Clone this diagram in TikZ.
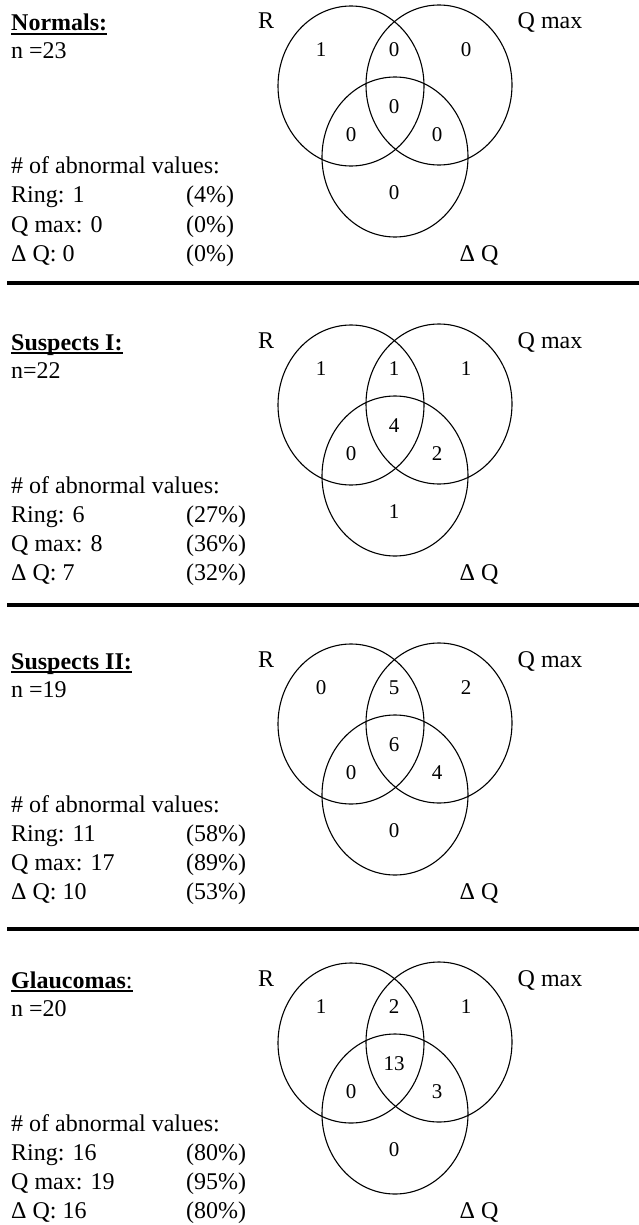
\documentclass[tikz,border=0pt]{standalone}
\usepackage{fontspec}
\setmainfont{Liberation Serif}
\usetikzlibrary{shapes.geometric}
\newcommand{\vennleft}[9]{%
  \begin{scope}[shift={(0,#1)}]
    \node[txt] (hd#1) at (11,31) {#2};
    \draw[ul] ([yshift=-3pt]hd#1.base west) -- ([yshift=-3pt]hd#1.base east);
    \node[txt] (n#1) at (11,59) {#3};
    \node[txt] (ab#1) at (11,174) {\# of abnormal values:};
    \node[txt] (ri#1) at (11,203) {Ring: #4};
    \node[txt] (rp#1) at (186,203) {(#5\%)};
    \node[txt] (qm#1) at (11,232) {Q max: #6};
    \node[txt] (qp#1) at (186,232) {(#7\%)};
    \node[txt] (dq#1) at (11,261) {Δ Q: #8};
    \node[txt] (dp#1) at (186,261) {(#9\%)};
  \end{scope}}
\newcommand{\vennright}[8]{%
  \begin{scope}[shift={(0,#1)}]
    \node[vcirc] (cR#1) at (351,86) {};
    \node[vcirc] (cQ#1) at (439,85) {};
    \node[vcirc] (cD#1) at (395,157) {};
    \node[lab] (lR#1) at (266,29) {R};
    \node[lab] (lQ#1) at (550,29) {Q max};
    \node[lab] (lD#1) at (479,261) {Δ Q};
    \node[num] (a#1) at (321,50) {#2};
    \node[num] (b#1) at (394,50) {#3};
    \node[num] (c#1) at (466,50) {#4};
    \node[num] (d#1) at (394,107) {#5};
    \node[num] (e#1) at (351,135) {#6};
    \node[num] (f#1) at (437,135) {#7};
    \node[num] (g#1) at (394,193) {#8};
  \end{scope}}
\begin{document}
\begin{tikzpicture}[x=1pt,y=-1pt,
  txt/.style={anchor=base west, inner sep=0pt, font=\fontsize{24}{28}\selectfont},
  lab/.style={anchor=base, inner sep=0pt, font=\fontsize{24}{28}\selectfont},
  num/.style={inner sep=0pt, font=\fontsize{21}{24}\selectfont},
  vcirc/.style={draw, ellipse, minimum width=146pt, minimum height=160pt, inner sep=0pt, outer sep=0pt, line width=1.1pt},
  sepline/.style={line width=3.5pt},
  ul/.style={line width=2.2pt}]
\useasboundingbox (0,0) rectangle (639,1225);
\vennleft{0}{\textbf{Normals:}}{n =23}{1}{4}{0}{0}{0}{0}
\vennright{0}{1}{0}{0}{0}{0}{0}{0}
\vennleft{319}{\textbf{Suspects I:}}{n=22}{6}{27}{8}{36}{7}{32}
\vennright{319}{1}{1}{1}{4}{0}{2}{1}
\vennleft{638}{\textbf{Suspects II:}}{n =19}{11}{58}{17}{89}{10}{53}
\vennright{638}{0}{5}{2}{6}{0}{4}{0}
\vennleft{957}{\textbf{Glaucomas}:}{n =20}{16}{80}{19}{95}{16}{80}
\vennright{957}{1}{2}{1}{13}{0}{3}{0}
\coordinate (s1a) at (7,283);
\coordinate (s1b) at (639,283);
\coordinate (s2a) at (7,605);
\coordinate (s2b) at (639,605);
\coordinate (s3a) at (7,929);
\coordinate (s3b) at (639,929);
\draw[sepline] (s1a) -- (s1b);
\draw[sepline] (s2a) -- (s2b);
\draw[sepline] (s3a) -- (s3b);
\end{tikzpicture}
\end{document}
